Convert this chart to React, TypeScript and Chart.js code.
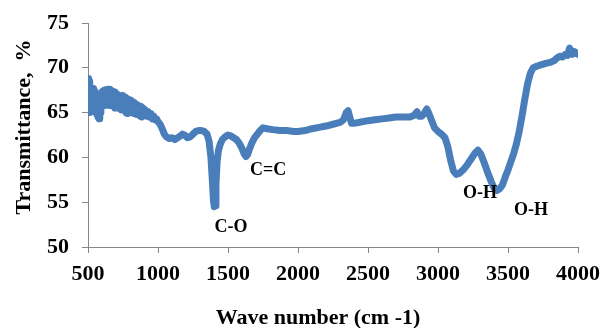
import { useEffect, useRef } from "react";
import { Chart, registerables } from "chart.js";

Chart.register(...registerables);

// FTIR spectrum: wave number (cm-1) against transmittance (%)
const waveNumbers = [
  500, 504, 508, 512, 516, 520, 524, 528, 532, 536, 540, 544, 548, 552, 556, 560, 564, 568, 572, 576,
  580, 584, 588, 592, 596, 600, 604, 608, 612, 616, 620, 624, 628, 632, 636, 640, 644, 648, 652, 656,
  660, 664, 668, 672, 676, 680, 684, 688, 692, 696, 700, 704, 708, 712, 716, 720, 724, 728, 732, 736,
  740, 744, 748, 752, 756, 760, 764, 768, 772, 776, 780, 784, 788, 792, 796, 800, 804, 808, 812, 816,
  820, 824, 828, 832, 836, 840, 844, 848, 852, 856, 860, 864, 868, 872, 876, 880, 884, 888, 892, 896,
  900, 910, 920, 930, 940, 950, 960, 970, 980, 990, 1000, 1015, 1030, 1045, 1060, 1080, 1100, 1120, 1140, 1160,
  1175, 1190, 1210, 1230, 1250, 1270, 1290, 1310, 1330, 1350, 1365, 1378, 1388, 1396, 1402, 1408, 1414, 1422, 1432, 1445,
  1460, 1480, 1500, 1520, 1540, 1560, 1580, 1600, 1615, 1628, 1640, 1655, 1670, 1690, 1710, 1730, 1750, 1780, 1820, 1870,
  1920, 1970, 2000, 2050, 2100, 2150, 2200, 2250, 2300, 2325, 2345, 2358, 2370, 2382, 2400, 2450, 2500, 2550, 2600, 2650,
  2700, 2750, 2800, 2830, 2850, 2865, 2885, 2905, 2920, 2935, 2955, 2975, 3000, 3025, 3050, 3070, 3090, 3110, 3130, 3150,
  3180, 3210, 3240, 3265, 3285, 3305, 3330, 3355, 3380, 3400, 3420, 3440, 3460, 3480, 3500, 3520, 3540, 3560, 3580, 3600,
  3620, 3640, 3660, 3680, 3710, 3740, 3770, 3800, 3830, 3850, 3870, 3890, 3910, 3925, 3940, 3950, 3960, 3975, 3990, 4000,
];

const transmittance = [
  65.2, 68.8, 65.0, 68.5, 65.4, 67.6, 65.1, 67.3, 65.6, 67.7, 65.3, 67.4, 65.7, 67.2, 65.2, 67.0, 64.8, 66.9, 64.5, 66.6,
  64.3, 66.8, 65.0, 67.1, 65.6, 67.3, 65.9, 67.4, 66.0, 67.5, 65.8, 67.3, 66.1, 67.5, 65.9, 67.6, 66.0, 67.4, 65.8, 67.6,
  66.1, 67.5, 65.9, 67.4, 65.8, 67.3, 65.7, 67.3, 65.5, 67.1, 65.6, 67.1, 65.7, 67.0, 65.5, 66.9, 65.6, 66.9, 65.4, 66.8,
  65.3, 66.9, 65.5, 66.8, 65.4, 66.7, 65.2, 66.7, 65.0, 66.6, 64.9, 66.5, 65.3, 66.4, 65.2, 66.4, 65.1, 66.3, 65.0, 66.2,
  65.1, 66.1, 64.9, 66.1, 65.0, 65.9, 64.8, 65.9, 64.8, 65.8, 64.9, 65.7, 64.7, 65.7, 64.6, 65.6, 64.5, 65.5, 64.6, 65.4,
  64.8, 65.3, 64.6, 65.1, 64.5, 64.9, 64.3, 64.6, 64.2, 64.3, 64.0, 63.7, 63.2, 62.6, 62.3, 62.1, 62.2, 62.0, 62.2, 62.4,
  62.6, 62.5, 62.2, 62.3, 62.6, 62.9, 63.0, 63.0, 62.9, 62.6, 61.8, 60.0, 57.5, 55.2, 54.5, 54.6, 57.0, 59.5, 60.8, 61.5,
  62.0, 62.3, 62.5, 62.4, 62.2, 62.0, 61.6, 61.0, 60.4, 60.1, 60.3, 61.0, 61.6, 62.2, 62.6, 63.0, 63.3, 63.2, 63.1, 63.0,
  63.0, 62.9, 62.9, 63.0, 63.2, 63.35, 63.5, 63.7, 63.9, 64.2, 65.0, 65.2, 64.5, 63.8, 63.8, 63.95, 64.1, 64.2, 64.3, 64.4,
  64.5, 64.5, 64.5, 64.7, 65.1, 64.6, 64.6, 65.0, 65.4, 64.9, 64.1, 63.3, 62.9, 62.6, 62.2, 61.2, 59.7, 58.5, 58.1, 58.2,
  58.6, 59.2, 59.9, 60.5, 60.8, 60.4, 59.4, 58.3, 57.3, 56.6, 56.3, 56.5, 56.9, 57.8, 58.6, 59.5, 60.4, 61.5, 62.9, 64.6,
  66.5, 68.2, 69.4, 70.0, 70.2, 70.35, 70.5, 70.6, 70.8, 71.1, 71.3, 71.2, 71.5, 71.4, 72.2, 71.9, 71.5, 71.8, 71.6, 71.5,
];

// Axis ranges
const xMin = 500;
const xMax = 4000;
const xStep = 500;
const yMin = 50;
const yMax = 75;
const yStep = 5;

// Band assignments, anchored in data space (wave number, transmittance)
const bandLabels = ["C-O", "C=C", "O-H", "O-H"];
const bandLabelX = [1521, 1786, 3300, 3664];
const bandLabelY = [52.2, 58.55, 56.0, 54.1];

const xTitle = "Wave number (cm -1)";
const yTitle = "Transmittance,  %";

const SERIF = '"Liberation Serif", "Times New Roman", "DejaVu Serif", serif';
const LINE_BLUE = "#4A7EBB";
const AXIS_GREY = "#878787";

const annotationPlugin = {
  id: "spectrumAnnotations",
  afterDraw(chart: any) {
    const { ctx, scales } = chart;
    const xs = scales.x;
    const ys = scales.y;
    ctx.save();
    ctx.fillStyle = "#000";
    ctx.textAlign = "center";
    ctx.textBaseline = "middle";

    ctx.font = `bold 18px ${SERIF}`;
    bandLabels.forEach((label, i) => {
      ctx.fillText(label, xs.getPixelForValue(bandLabelX[i]), ys.getPixelForValue(bandLabelY[i]));
    });

    ctx.font = `bold 22px ${SERIF}`;
    ctx.fillText(xTitle, 318, 318);

    ctx.translate(24, 127);
    ctx.rotate(-Math.PI / 2);
    ctx.fillText(yTitle, 0, 0);
    ctx.restore();
  },
};

export default function App() {
  const canvasRef = useRef<HTMLCanvasElement | null>(null);

  useEffect(() => {
    document.body.style.margin = "0";
    const canvas = canvasRef.current;
    if (!canvas) return;

    const points = waveNumbers.map((x, i) => ({ x, y: transmittance[i] }));

    const chart = new Chart(canvas, {
      type: "line",
      data: {
        datasets: [
          {
            data: points,
            borderColor: LINE_BLUE,
            backgroundColor: LINE_BLUE,
            borderWidth: 7,
            borderJoinStyle: "round",
            borderCapStyle: "round",
            pointRadius: 0,
            tension: 0,
          },
        ],
      },
      options: {
        responsive: false,
        animation: false,
        parsing: false,
        layout: { padding: { top: 23, right: 22, left: 0, bottom: 0 } },
        plugins: {
          legend: { display: false },
          tooltip: { enabled: false },
        },
        scales: {
          x: {
            type: "linear",
            min: xMin,
            max: xMax,
            afterFit(scale: any) {
              scale.height = 81;
              scale.paddingLeft = 0;
              scale.paddingRight = 0;
            },
            border: { display: true, color: AXIS_GREY, width: 1 },
            grid: { drawOnChartArea: false, drawTicks: true, tickLength: 6, color: AXIS_GREY },
            ticks: {
              stepSize: xStep,
              color: "#000",
              padding: 8,
              maxRotation: 0,
              callback: (v: any) => String(v),
              font: { family: SERIF, size: 22, weight: "bold" },
            },
          },
          y: {
            type: "linear",
            min: yMin,
            max: yMax,
            afterFit(scale: any) {
              scale.width = 88;
              scale.paddingTop = 0;
              scale.paddingBottom = 0;
            },
            border: { display: true, color: AXIS_GREY, width: 1 },
            grid: { drawOnChartArea: false, drawTicks: true, tickLength: 6, color: AXIS_GREY },
            ticks: {
              stepSize: yStep,
              color: "#000",
              padding: 13,
              callback: (v: any) => String(v),
              font: { family: SERIF, size: 22, weight: "bold" },
            },
          },
        },
      },
      plugins: [annotationPlugin],
    });

    return () => chart.destroy();
  }, []);

  return <canvas ref={canvasRef} width={600} height={328} />;
}
